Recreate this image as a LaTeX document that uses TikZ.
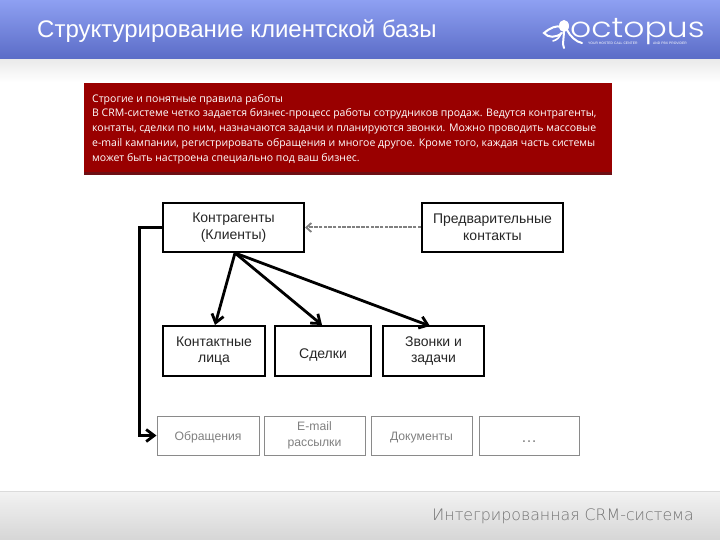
\documentclass[tikz,border=0pt]{standalone}
\usepackage{fontspec}
\setmainfont{Liberation Sans}
\newfontfamily\bodyfont{Open Sans}
\newfontfamily\logofont{Poppins Light}
\newfontfamily\footfont{DejaVu Sans ExtraLight}
\usetikzlibrary{arrows.meta}
\definecolor{hdrtop}{HTML}{8EA0F2}
\definecolor{hdrbot}{HTML}{5A6BC6}
\definecolor{redbox}{HTML}{990000}
\definecolor{redline}{HTML}{6E0F14}
\definecolor{lightframe}{HTML}{8A8A8A}
\definecolor{lighttext}{HTML}{808080}
\tikzset{
  mainbox/.style={draw=black,line width=2pt,align=center,font=\fontsize{14}{16.5}\selectfont,text=black!85,inner sep=0pt,execute at begin node={\rule{0pt}{18.5pt}}},
  subbox/.style={draw=lightframe,line width=1pt,align=center,font=\fontsize{12.2}{15.5}\selectfont,text=lighttext,inner sep=0pt,execute at begin node={\rule{0pt}{12pt}}},
  thickarrow/.style={line width=2.8pt,-{Straight Barb[length=8pt,width=12pt,line width=2.8pt]}},
  dasharrow/.style={draw=black!50,line width=2pt,dash pattern=on 3.5pt off 1.2pt,-{Straight Barb[length=5pt,width=9pt,line width=1.8pt]}}
}
\begin{document}
\begin{tikzpicture}[x=1pt,y=-1pt]
\useasboundingbox (0,0) rectangle (720,540);
\fill[white] (0,0) rectangle (720,540);
% header and bands
\shade[top color=hdrtop,bottom color=hdrbot] (0,0) rectangle (720,60);
\shade[top color=black!8,bottom color=white] (0,60) rectangle (720,82);
\shade[top color=black!5,bottom color=black!16] (0,491) rectangle (720,540);
\draw[black!14,line width=.8pt] (0,491) -- (720,491);
\node[anchor=west,inner sep=0pt,text=white,font=\fontsize{24}{28}\selectfont] (title) at (37,31) {Структурирование клиентской базы};
% logo
\node[anchor=base west,inner sep=0pt,text=white,font=\logofont\fontsize{28}{28}\selectfont] (logo) at (570,38) {\scalebox{1.18}[1]{octopus}};
\node[anchor=west,inner sep=0pt,text=white,font=\fontsize{3.4}{4}\selectfont] (logosub) at (588,43.5) {YOUR HOSTED CALL CENTER};
\node[anchor=west,inner sep=0pt,text=white,font=\fontsize{3.4}{4}\selectfont] (logosub2) at (653,43.5) {AND PBX PROVIDER};
\draw[white,line width=2pt,line cap=round] (562,27) .. controls (556,25) and (550,28) .. (544,33) .. controls (548,38) and (556,38) .. (562,33);
\draw[white,line width=2pt,line cap=round] (564,30) .. controls (564,38) and (562,44) .. (564,48);
\draw[white,line width=2pt,line cap=round] (567,30) .. controls (570,36) and (576,42) .. (582,43);
\draw[white,line width=1.6pt,line cap=round] (561,33) .. controls (560,37) and (557,40) .. (553,41);
\fill[white] (564,26) ellipse (5pt and 6pt);
% red panel
\fill[redline] (84,83) rectangle (612,175);
\fill[redbox] (84,83) rectangle (612,172.5);
\node[anchor=north west,inner sep=0pt,text=white,align=left,font=\bodyfont\fontsize{10.5}{14.7}\selectfont] (panel) at (92,94) {%
Строгие и понятные правила работы\\
В CRM-системе четко задается бизнес-процесс работы сотрудников продаж. Ведутся контрагенты,\\
контаты, сделки по ним, назначаются задачи и планируются звонки. Можно проводить массовые\\
e-mail кампании, регистрировать обращения и многое другое. Кроме того, каждая часть системы\\
может быть настроена специально под ваш бизнес.};
% main boxes
\node[mainbox,minimum width=141pt,minimum height=49pt] (clients) at (233.5,227.5) {Контрагенты\\(Клиенты)};
\node[mainbox,minimum width=141pt,minimum height=49pt] (pre) at (492.5,227.5) {Предварительные\\контакты};
\node[mainbox,minimum width=102pt,minimum height=50pt] (persons) at (214,351) {Контактные\\лица};
\node[mainbox,minimum width=96pt,minimum height=50pt,execute at begin node={\rule{0pt}{15pt}}] (deals) at (323,351) {Сделки};
\node[mainbox,minimum width=101pt,minimum height=50pt] (calls) at (433.5,351) {Звонки и\\задачи};
% secondary boxes
\node[subbox,minimum width=102pt,minimum height=39pt] (req) at (208,435.5) {Обращения};
\node[subbox,minimum width=101pt,minimum height=39pt,execute at begin node={\rule{0pt}{15pt}}] (mail) at (314.5,435.5) {E-mail\\рассылки};
\node[subbox,minimum width=101pt,minimum height=39pt] (docs) at (421.5,435.5) {Документы};
\node[subbox,minimum width=100pt,minimum height=39pt,font=\fontsize{16}{16}\selectfont,execute at begin node={\rule{0pt}{14pt}}] (more) at (529,435.5) {…};
% connectors
\coordinate (fan) at (235,253);
\draw[thickarrow] (fan) -- (215,325);
\draw[thickarrow] (fan) -- (322,325);
\draw[thickarrow] (fan) -- (430,326);
\draw[dasharrow] (pre.west) -- (clients.east);
\draw[thickarrow] (clients.west) -- (139.5,227.5) -- (139.5,435.5) -- (req.west);
\node[anchor=east,inner sep=0pt,text=black!55,font=\footfont\fontsize{15.8}{18}\selectfont] (footer) at (694,516) {Интегрированная CRM-система};
\end{tikzpicture}
\end{document}
